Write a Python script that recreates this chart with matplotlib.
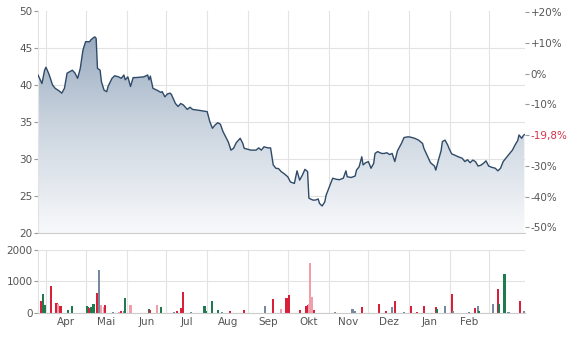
import numpy as np
import matplotlib
matplotlib.use('Agg')
import matplotlib.pyplot as plt
from matplotlib.colors import LinearSegmentedColormap
from matplotlib.patches import Polygon

# ---------------- data ----------------
# day offsets from 1 April (x) and closing prices
days = [-6, -3, -1, 0, 2, 3, 5, 7, 10, 12, 14, 16, 18, 20, 22, 24, 26, 28, 30, 33, 34, 36, 37, 38,
        39, 41, 42, 44, 46, 47, 50, 52, 55, 57, 59, 60, 62, 64, 66, 68, 74, 77, 78, 79, 81, 84, 87,
        88, 90, 92, 94, 95, 98, 100, 102, 104, 107, 109, 111, 115, 122, 124, 126, 128, 130, 132,
        134, 136, 138, 140, 142, 144, 147, 149, 150, 153, 155, 159, 161, 163, 165, 168, 170, 172,
        174, 176, 178, 180, 183, 185, 188, 190, 192, 194, 196, 198, 199, 202, 204, 206, 207, 209,
        211, 212, 215, 217, 220, 222, 225, 227, 228, 231, 234, 235, 237, 239, 240, 242, 244, 246,
        248, 249, 251, 254, 256, 258, 260, 262, 264, 266, 269, 271, 274, 276, 279, 282, 285, 286,
        289, 291, 294, 295, 297, 299, 300, 302, 304, 305, 307, 309, 312, 315, 317, 319, 321, 323,
        325, 327, 329, 331, 333, 335, 337, 340, 342, 344, 346, 348, 350, 353, 355, 357, 358, 360,
        361, 362]
prices = [41.35, 40.2, 42.0, 42.4, 41.6, 41.1, 40.0, 39.55, 39.2, 38.9, 39.55, 41.6, 41.8, 42.0,
          41.6, 40.9, 42.25, 44.7, 45.85, 45.85, 46.1, 46.4, 46.5, 46.3, 42.25, 42.0, 40.45, 39.3,
          39.1, 39.8, 40.9, 41.25, 41.1, 40.9, 41.35, 40.7, 41.1, 39.8, 41.0, 41.0, 41.1, 41.35,
          40.7, 41.2, 39.55, 39.3, 39.0, 39.1, 38.4, 38.8, 38.9, 38.7, 37.5, 37.1, 37.5, 37.3,
          36.7, 37.0, 36.7, 36.6, 36.4, 35.05, 34.15, 34.6, 34.9, 34.7, 33.7, 33.0, 32.3, 31.2,
          31.45, 32.2, 32.8, 32.1, 31.45, 31.3, 31.2, 31.2, 31.5, 31.2, 31.65, 31.5, 31.5, 29.2,
          28.75, 28.7, 28.3, 28.05, 27.6, 26.9, 26.7, 28.4, 27.15, 27.8, 28.6, 28.3, 24.7, 24.45,
          24.45, 24.6, 24.0, 23.65, 24.2, 25.1, 26.5, 27.4, 27.25, 27.2, 27.4, 28.4, 27.6, 27.5,
          27.7, 28.5, 28.95, 30.3, 29.2, 29.5, 29.65, 28.75, 29.4, 30.75, 31.0, 30.75, 30.75,
          30.85, 30.6, 30.75, 29.65, 31.1, 32.1, 32.9, 33.0, 32.95, 32.8, 32.55, 32.1, 31.45,
          30.3, 29.5, 29.05, 28.5, 29.85, 31.1, 32.35, 32.55, 31.9, 31.45, 30.7, 30.55, 30.3,
          30.1, 29.65, 29.9, 29.5, 29.85, 29.65, 29.05, 29.15, 29.4, 29.75, 29.05, 28.9, 28.75,
          28.4, 28.75, 29.65, 30.1, 30.55, 31.2, 31.9, 32.5, 33.25, 32.8, 33.1, 33.3]

# volume bars: day, volume, colour class (r=down, p=light down, g=up, k=neutral)
vol_days = [-4, -2, -1, 4, 8, 9, 11, 17, 20, 31, 32, 33, 34, 36, 39, 40, 42, 44, 45, 51, 55, 57,
            59, 60, 64, 78, 79, 84, 87, 97, 99, 102, 104, 110, 120, 121, 126, 130, 133, 139, 150,
            166, 172, 178, 182, 184, 192, 197, 198, 199, 200, 201, 203, 219, 232, 234, 239, 252,
            257, 262, 264, 271, 276, 281, 286, 295, 296, 302, 307, 308, 320, 325, 327, 328, 338,
            342, 343, 347, 350, 359, 362]
vol_values = [380, 590, 250, 870, 330, 280, 220, 100, 220, 210, 180, 160, 200, 275, 640, 1360,
              260, 200, 240, 30, 30, 60, 60, 480, 240, 120, 90, 240, 180, 30, 60, 150, 670, 30,
              220, 60, 390, 80, 30, 70, 90, 220, 460, 140, 490, 570, 100, 230, 260, 300, 1600,
              500, 100, 20, 120, 50, 200, 280, 70, 190, 390, 40, 210, 40, 210, 190, 140, 210,
              590, 60, 40, 150, 210, 60, 290, 750, 270, 1230, 30, 390, 50]
vol_kind = ['r', 'g', 'g', 'r', 'r', 'p', 'r', 'g', 'g', 'g', 'g', 'r', 'g', 'g', 'r', 'k',
            'p', 'p', 'r', 'k', 'p', 'r', 'k', 'g', 'p', 'g', 'r', 'p', 'g', 'k', 'r', 'r', 'r',
            'k', 'g', 'g', 'g', 'g', 'k', 'r', 'r', 'k', 'r', 'p', 'r', 'r', 'r', 'r', 'r', 'p',
            'p', 'p', 'r', 'k', 'k', 'k', 'r', 'r', 'r', 'k', 'r', 'k', 'r', 'r', 'r', 'r', 'g',
            'k', 'r', 'k', 'k', 'r', 'k', 'g', 'k', 'r', 'g', 'g', 'k', 'r', 'k']

month_starts = [0, 30, 61, 91, 122, 153, 183, 214, 244, 275, 306, 335]
month_labels = ['Apr', 'Mai', 'Jun', 'Jul', 'Aug', 'Sep', 'Okt', 'Nov', 'Dez', 'Jan', 'Feb']
price_ticks = [20, 25, 30, 35, 40, 45, 50]
pct_ticks = [20, 10, 0, -10, -30, -40, -50]
vol_ticks = [0, 1000, 2000]
base_price = 41.52

# ---------------- styling ----------------
plt.rcParams['font.family'] = ['DejaVu Sans']
FS = 7.5
TXT = '#555555'
GRID = '#e3e3e3'
LINE = '#2f4a68'
kind_color = {'r': '#d8203b', 'p': '#f09eac', 'g': '#1f7a4d', 'k': '#75899e'}

fig = plt.figure(figsize=(5.74, 3.37), dpi=100)
ax = fig.add_axes([0.0662, 0.3086, 0.8484, 0.6588])
axv = fig.add_axes([0.0662, 0.0712, 0.8484, 0.187])

xmin, xmax = -6, 362.5

# price area with vertical gradient
ax.set_xlim(xmin, xmax)
ax.set_ylim(20, 50)
cmap = LinearSegmentedColormap.from_list('g', ['#f8f9fb', '#c9d3de', '#8b9fb7'])
grad = np.linspace(0, 1, 256).reshape(-1, 1)
im = ax.imshow(grad, cmap=cmap, aspect='auto', origin='lower',
               extent=[xmin, xmax, 20, 50], zorder=1)
poly_pts = np.column_stack([np.r_[days[0], days, days[-1]],
                            np.r_[20, prices, 20]])
poly = Polygon(poly_pts, closed=True, facecolor='none', edgecolor='none')
ax.add_patch(poly)
im.set_clip_path(poly)
ax.plot(days, prices, color=LINE, lw=1.0, zorder=3)

for a in (ax, axv):
    a.set_xticks(month_starts)
    a.set_xticklabels([])
    a.grid(True, axis='both', color=GRID, lw=0.8, zorder=0)
    a.set_axisbelow(True)
    for s in ('top', 'right'):
        a.spines[s].set_visible(False)
    a.spines['left'].set_color(GRID)
    a.spines['bottom'].set_color('#cccccc')
    a.tick_params(axis='x', length=0, which='both')
    a.tick_params(axis='y', length=3, color='#999999', labelsize=FS, labelcolor=TXT, pad=1)

ax.set_yticks(price_ticks)
ax.set_yticklabels([str(t) for t in price_ticks])
ax.yaxis.get_gridlines()[-1].set_visible(False)
ax.yaxis.get_gridlines()[0].set_visible(False)

# right percentage axis
ax2 = ax.twinx()
ax2.set_ylim((20 / base_price - 1) * 100, (50 / base_price - 1) * 100)
last_pct = (prices[-1] / base_price - 1) * 100
ticks = pct_ticks + [last_pct]
labels = ['%+d%%' % t if t != 0 else '0%' for t in pct_ticks] + \
         [('%.1f%%' % last_pct).replace('.', ',')]
ax2.set_yticks(ticks)
ax2.set_yticklabels(labels)
ax2.tick_params(axis='y', length=3, color='#999999', labelsize=FS, labelcolor=TXT, pad=1)
ax2.get_yticklabels()[-1].set_color('#d8304a')
for s in ax2.spines.values():
    s.set_visible(False)

# volume
axv.set_xlim(xmin, xmax)
axv.set_ylim(0, 2000)
axv.bar(vol_days, vol_values, width=1.6, color=[kind_color[k] for k in vol_kind], zorder=2)
axv.set_yticks(vol_ticks)
axv.set_yticklabels([str(t) for t in vol_ticks])
mids = [(month_starts[i] + month_starts[i + 1]) / 2 for i in range(len(month_labels))]
axv.set_xticks(mids, minor=True)
axv.set_xticklabels(month_labels, minor=True)
axv.tick_params(axis='x', which='minor', labelsize=FS, labelcolor=TXT, pad=3)

fig.savefig('out.png', dpi=100)
